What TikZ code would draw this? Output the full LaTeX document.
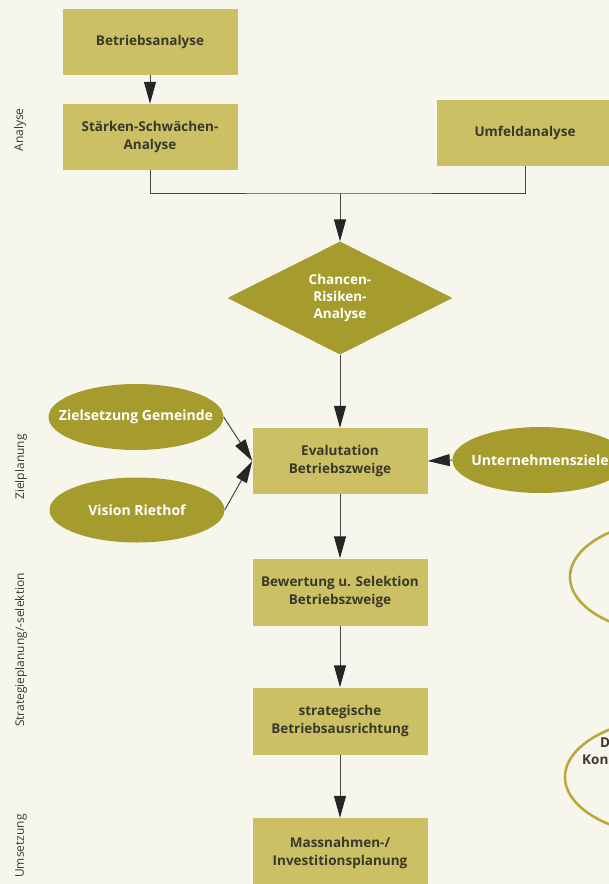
\documentclass[tikz,border=0pt]{standalone}
\usepackage{fontspec}
\setmainfont{Open Sans}
\usetikzlibrary{arrows.meta, positioning, shapes.geometric}
\definecolor{paper}{RGB}{247,246,236}
\definecolor{boxfill}{RGB}{203,193,100}
\definecolor{olive}{RGB}{166,156,46}
\definecolor{ringcol}{RGB}{184,170,60}
\definecolor{ink}{RGB}{58,56,44}
\definecolor{wire}{RGB}{72,72,68}

\begin{document}
\begin{tikzpicture}[x=1pt, y=-1pt,
  stepbox/.style={rectangle, fill=boxfill, text=ink, align=center,
    font=\fontsize{13.5}{18}\selectfont\bfseries,
    minimum width=175pt, minimum height=66pt, inner sep=0pt},
  goal/.style={ellipse, fill=olive, text=white,
    font=\fontsize{14}{18}\selectfont\bfseries,
    minimum width=175pt, minimum height=66pt, inner sep=0pt},
  ring/.style={ellipse, draw=ringcol, line width=2.6pt, inner sep=0pt},
  phase/.style={rotate=90, text=ink, font=\fontsize{12}{14}\selectfont},
  flow/.style={draw=wire, line width=1pt,
    -{Triangle[length=22pt, width=12pt, color=black!85]}}]
  \useasboundingbox (0,0) rectangle (609,884);
  \clip (0,0) rectangle (609,884);
  \fill[paper] (0,0) rectangle (609,884);

  % Phases
  \node[phase] (phA) at (20,130) {Analyse};
  \node[phase] (phZ) at (21,467) {Zielplanung};
  \node[phase] (phS) at (21,650) {Strategieplanung/-selektion};
  \node[phase] (phU) at (21,846) {Umsetzung};

  % Analyse
  \node[stepbox] (ba) at (150,42) {Betriebsanalyse};
  \node[stepbox] (ssa) at (150,137) {Stärken-Schwächen-\\Analyse};
  \node[stepbox, minimum width=176pt] (umf) at (525,133) {Umfeldanalyse};
  \coordinate (join) at (340,193);

  % Chancen-Risiken
  \node[diamond, fill=olive, text=white, align=center,
    font=\fontsize{13.5}{17}\selectfont\bfseries, aspect=2,
    minimum width=225pt, minimum height=113pt, inner sep=0pt]
    (cra) at (340,298) {Chancen-\\Risiken-\\Analyse};

  % Zielplanung
  \node[stepbox] (ev) at (340,461) {Evalutation\\Betriebszweige};
  \node[goal] (zg) at (136,417) {\makebox[0pt]{Zielsetzung Gemeinde}};
  \node[goal, minimum height=65pt] (vr) at (137,510) {\makebox[0pt]{Vision Riethof}};
  \node[goal] (uz) at (540,460) {\makebox[0pt]{Unternehmensziele}};

  % Strategie / Umsetzung
  \node[stepbox, minimum height=67pt] (bs) at (340,592) {Bewertung u. Selektion\\Betriebszweige};
  \node[stepbox, minimum height=67pt] (sb) at (340,721) {strategische\\Betriebsausrichtung};
  \node[stepbox, minimum height=70pt] (mi) at (340,853) {Massnahmen-/\\Investitionsplanung};

  % right rings (cut off)
  \node[ring, minimum width=220pt, minimum height=116pt] (r1) at (680,577) {};
  \node[ring, minimum width=230pt, minimum height=120pt] (r2) at (680,777) {};
  \node[anchor=west, text=ink, font=\fontsize{13.5}{17}\selectfont\bfseries, inner sep=0pt] (r2a) at (600,743) {D};
  \node[anchor=west, text=ink, font=\fontsize{13.5}{17}\selectfont\bfseries, inner sep=0pt] (r2b) at (582,760) {Kon};

  % Arrows
  \draw[flow] (ba) -- (ssa);
  \draw[draw=wire, line width=1pt] (ssa.south) |- (join) -| (umf.south);
  \draw[flow] (join) -- (cra.north);
  \draw[flow] (cra.south) -- (ev.north);
  \draw[flow] (zg.east) -- (ev.west);
  \draw[flow] (vr.east) -- (ev.west);
  \draw[flow] (uz.west) -- (ev.east);
  \draw[flow] (ev) -- (bs);
  \draw[flow] (bs) -- (sb);
  \draw[flow] (sb) -- (mi);
\end{tikzpicture}
\end{document}
